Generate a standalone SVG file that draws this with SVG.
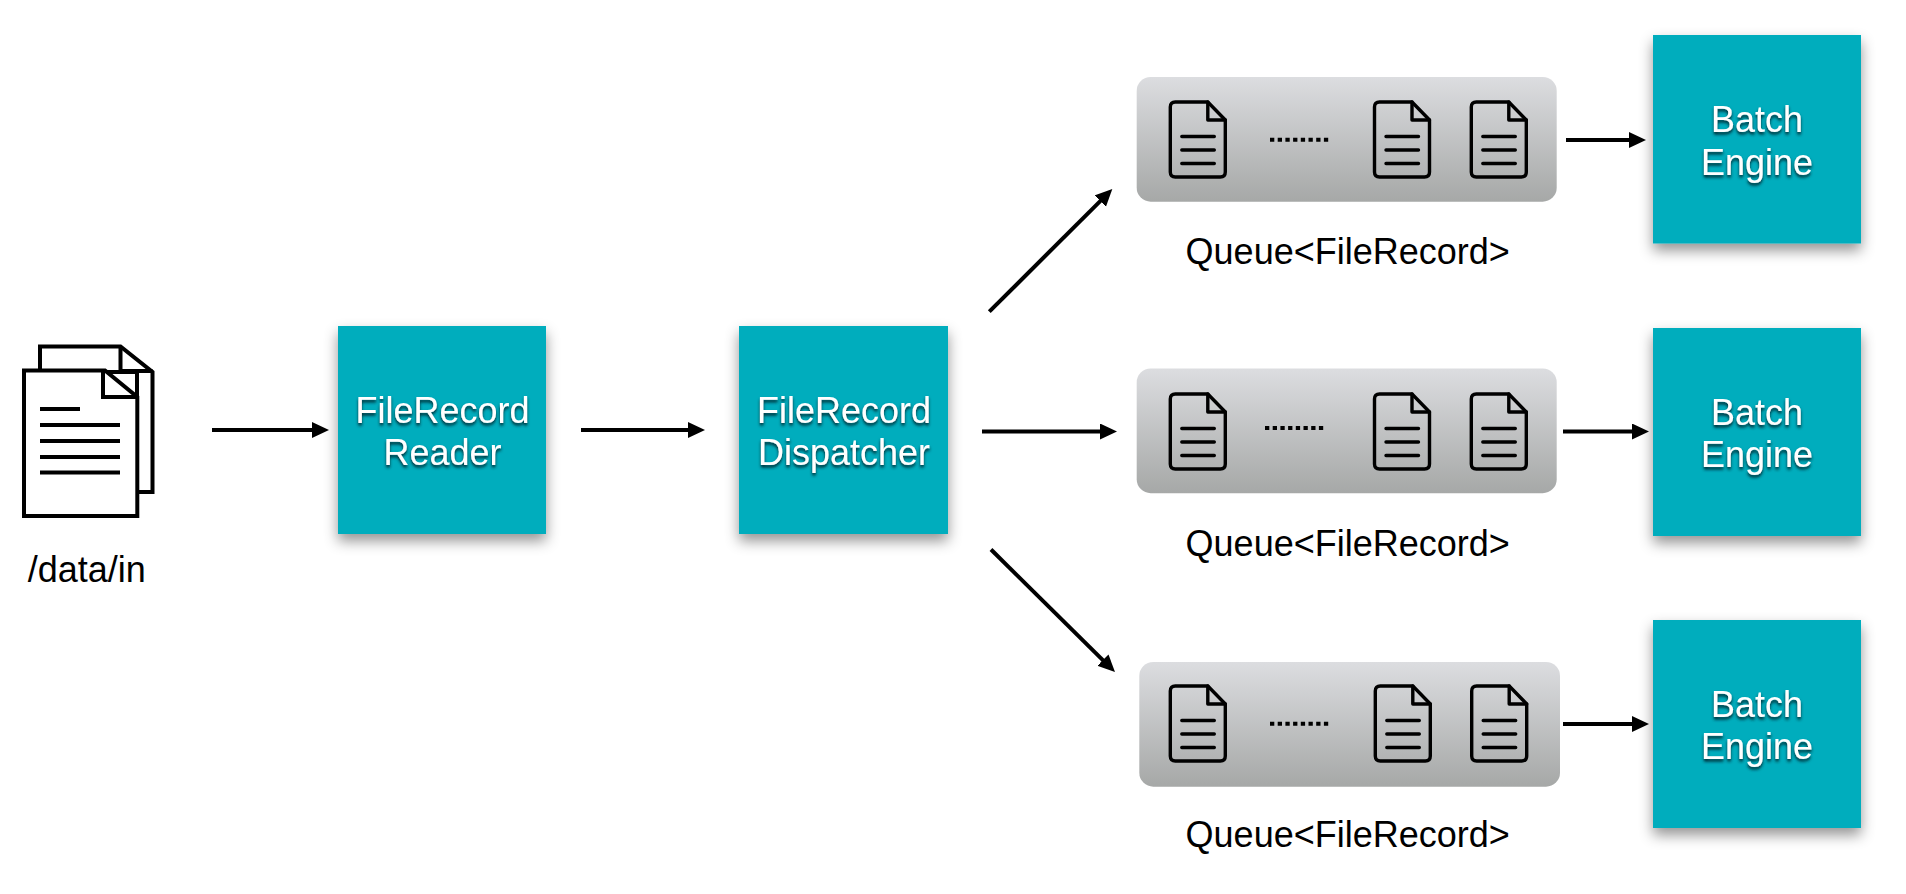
<svg xmlns="http://www.w3.org/2000/svg" width="1906" height="894" viewBox="0 0 1906 894">
<style>
text{font-family:"Liberation Sans",Arial,sans-serif;font-size:36px;text-anchor:middle}
.lbl{fill:#000}
.box{fill:#05adbd;filter:url(#boxShadow)}
.boxt{fill:#fff;filter:url(#textShadow)}
.q{fill:url(#qGrad)}
.conn{fill:none;stroke:#000;stroke-width:4;marker-end:url(#ah)}
.ic{fill:none;stroke:#000;stroke-width:3.4;stroke-linejoin:round;stroke-linecap:round}
.dots{fill:none;stroke:#000;stroke-width:4;stroke-dasharray:4.3 3.4}
.page{fill:#fff;stroke:#000;stroke-width:4;stroke-linejoin:miter}
.fold{fill:none;stroke:#000;stroke-width:4}
.pl{stroke:#000;stroke-width:3.8;fill:none}
</style>
<defs>
<linearGradient id="qGrad" x1="0" y1="0" x2="0" y2="1"><stop offset="0" stop-color="#dcdde0"/><stop offset="1" stop-color="#a6a8a7"/></linearGradient>
<filter id="boxShadow" x="-15%" y="-15%" width="130%" height="135%"><feDropShadow dx="0" dy="7" stdDeviation="7" flood-color="#000" flood-opacity=".42"/></filter>
<filter id="textShadow" x="-15%" y="-25%" width="130%" height="160%"><feDropShadow dx="0" dy="2.500" stdDeviation="1.600" flood-color="#00282f" flood-opacity="1"/></filter>
<marker id="ah" markerUnits="userSpaceOnUse" markerWidth="19" markerHeight="18" refX="1" refY="8" orient="auto"><path d="M0 0L17 8L0 16Z" fill="#000"/></marker>
<g id="doc">
<path class="ic" d="M5 0H37.500L55 18V70Q55 75 50 75H5Q0 75 0 70V5Q0 0 5 0Z"/>
<path class="ic" d="M37.500 0V18H55"/>
<path class="ic" d="M11.500 34.500H44M11.500 48H44M11.500 61.500H44"/>
</g>
</defs>
<g id="connectors">
<line class="conn" x1="212" y1="430" x2="313" y2="430"/>
<line class="conn" x1="581" y1="430" x2="689" y2="430"/>
<line class="conn" x1="989.300" y1="311.700" x2="1101" y2="200.300"/>
<line class="conn" x1="982" y1="431.500" x2="1101" y2="431.500"/>
<line class="conn" x1="991" y1="549.500" x2="1103.600" y2="660.800"/>
<line class="conn" x1="1566" y1="140" x2="1630" y2="140"/>
<line class="conn" x1="1563" y1="431.500" x2="1633" y2="431.500"/>
<line class="conn" x1="1563" y1="724" x2="1633" y2="724"/>
</g>
<g id="data-in">
<path class="page" d="M40 372V346.500H120.500L152.500 372V492H137V372Z"/>
<path class="fold" d="M120.500 346.500V371H152.500"/>
<path class="page" d="M24 370.500H105L137.300 397V516H24Z"/>
<path class="fold" d="M103 370.500V397H137.300"/>
<path class="pl" d="M40 409H80M40 425H120M40 441H120M40 457H120M40 472.500H120"/>
<text class="lbl" x="86.700" y="581.500">/data/in</text>
</g>
<g id="reader">
<rect class="box" x="338" y="326" width="208" height="208"/>
<text class="boxt" x="442.500" y="422.500">FileRecord</text>
<text class="boxt" x="442.500" y="465">Reader</text>
</g>
<g id="dispatcher">
<rect class="box" x="739" y="326" width="209" height="208"/>
<text class="boxt" x="844" y="422.500">FileRecord</text>
<text class="boxt" x="844" y="465">Dispatcher</text>
</g>
<g id="queue1">
<rect class="q" x="1136.700" y="77" width="420" height="124.700" rx="14"/>
<use href="#doc" x="1170.300" y="102"/><use href="#doc" x="1374.500" y="102"/><use href="#doc" x="1471.300" y="102"/>
<line class="dots" x1="1270" y1="139.700" x2="1330" y2="139.700"/>
<text class="lbl" x="1347.700" y="264">Queue&lt;FileRecord&gt;</text>
</g>
<g id="queue2">
<rect class="q" x="1136.700" y="368.500" width="420" height="124.700" rx="14"/>
<use href="#doc" x="1170.300" y="394"/><use href="#doc" x="1374.500" y="394"/><use href="#doc" x="1471.300" y="394"/>
<line class="dots" x1="1265" y1="428" x2="1326" y2="428"/>
<text class="lbl" x="1347.700" y="555.500">Queue&lt;FileRecord&gt;</text>
</g>
<g id="queue3">
<rect class="q" x="1139.300" y="662" width="420.700" height="124.700" rx="14"/>
<use href="#doc" x="1170.300" y="686"/><use href="#doc" x="1375.300" y="686"/><use href="#doc" x="1471.700" y="686"/>
<line class="dots" x1="1270" y1="723.700" x2="1330" y2="723.700"/>
<text class="lbl" x="1347.700" y="846.700">Queue&lt;FileRecord&gt;</text>
</g>
<g id="engine1">
<rect class="box" x="1653" y="35" width="208" height="208.500"/>
<text class="boxt" x="1757" y="131.700">Batch</text>
<text class="boxt" x="1757" y="174.500">Engine</text>
</g>
<g id="engine2">
<rect class="box" x="1653" y="328" width="208" height="208"/>
<text class="boxt" x="1757" y="424.700">Batch</text>
<text class="boxt" x="1757" y="467">Engine</text>
</g>
<g id="engine3">
<rect class="box" x="1653" y="620" width="208" height="208"/>
<text class="boxt" x="1757" y="716.500">Batch</text>
<text class="boxt" x="1757" y="759.300">Engine</text>
</g>
</svg>
